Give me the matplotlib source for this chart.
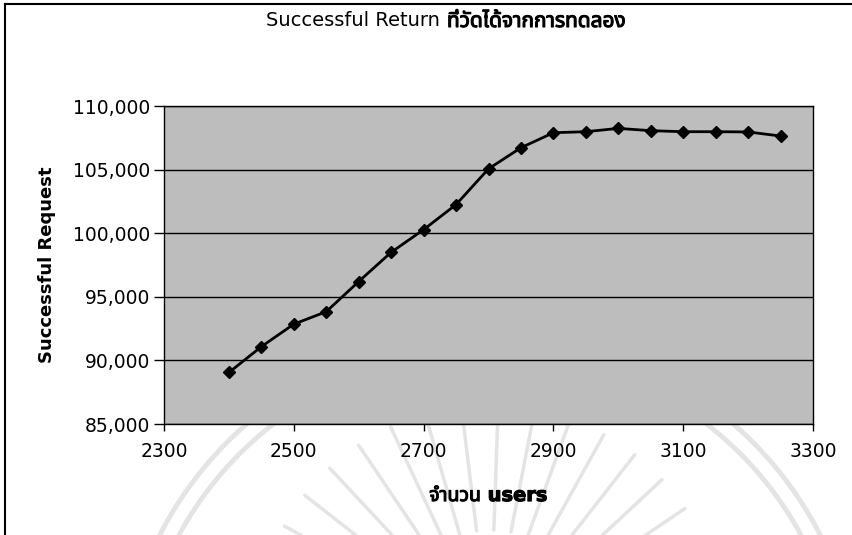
import numpy as np
import matplotlib
matplotlib.use('Agg')
import matplotlib.pyplot as plt
import matplotlib.patheffects as pe
from matplotlib import font_manager
from matplotlib.patches import Arc
from matplotlib.ticker import FuncFormatter
from fontTools.ttLib import TTFont

# data
users = [2400, 2450, 2500, 2550, 2600, 2650, 2700, 2750, 2800,
         2850, 2900, 2950, 3000, 3050, 3100, 3150, 3200, 3250]
successful = [89050, 91080, 92850, 93830, 96200, 98500, 100280, 102250, 105060,
              106720, 107900, 107980, 108240, 108060, 107980, 107980, 107960, 107640]

x_ticks = [2300, 2500, 2700, 2900, 3100, 3300]
y_ticks = [85000, 90000, 95000, 100000, 105000, 110000]

title_en = 'Successful Return'
title_th = 'ที่วัดได้จากการทดลอง'
xlabel = 'จำนวน users'
ylabel = 'Successful Request'


def find_thai_family():
    # look for any installed font that has Thai glyphs
    found = []
    for f in font_manager.fontManager.ttflist:
        try:
            cmap = TTFont(f.fname, fontNumber=0, lazy=True).getBestCmap()
        except Exception:
            continue
        if cmap and 0x0E08 in cmap and 0x0E27 in cmap:
            found.append(f.name)
    for pref in ['Noto Sans Thai', 'Loma', 'Garuda', 'Tlwg Typo', 'Umpush']:
        if pref in found:
            return pref
    return found[0] if found else None


thai = find_thai_family()
fams = ['DejaVu Sans'] + ([thai] if thai else [])
plt.rcParams['font.family'] = fams

W, H = 853, 535
fig = plt.figure(figsize=(W / 100, H / 100), dpi=100)
fig.patch.set_facecolor('white')

# background layer: border lines of the scanned page and the faint watermark
bg = fig.add_axes([0, 0, 1, 1], zorder=0)
bg.set_xlim(0, W)
bg.set_ylim(H, 0)
bg.axis('off')
wm = '#e4e4e4'
for r in [371, 354]:
    bg.add_patch(Arc((490, 704), 2 * r, 2 * r, theta1=180, theta2=360,
                     color=wm, lw=3.5))
for ang in np.arange(25, 160, 9):
    a = np.deg2rad(ang)
    bg.plot([490 + 110 * np.cos(a), 490 + 235 * np.cos(a)],
            [640 - 110 * np.sin(a), 640 - 235 * np.sin(a)],
            color=wm, lw=2.5, solid_capstyle='round')
bg.plot([5, 5], [4, H], color='black', lw=1.5)
bg.plot([5, W], [4, 4], color='black', lw=1.5)

# main plot
ax = fig.add_axes([164 / W, 1 - 424 / H, 649 / W, 318 / H], zorder=2)
ax.set_facecolor('#bdbdbd')
ax.plot(users, successful, color='black', lw=2, marker='D', markersize=6.5,
        zorder=3)

ax.set_xlim(2300, 3300)
ax.set_ylim(85000, 110000)
ax.set_xticks(x_ticks)
ax.set_yticks(y_ticks)
ax.yaxis.set_major_formatter(FuncFormatter(lambda v, p: f'{int(v):,}'))
ax.grid(axis='y', color='black', lw=1)
ax.set_axisbelow(True)
for s in ax.spines.values():
    s.set_color('black')
    s.set_linewidth(1)
ax.tick_params(axis='y', direction='out', length=7, width=1, labelsize=13.5, pad=3)
ax.tick_params(axis='x', direction='out', length=5, width=1, labelsize=13.5, pad=8)

bold = [pe.withStroke(linewidth=0.8, foreground='black')]
xl = ax.set_xlabel(xlabel, fontsize=14, fontweight='bold', labelpad=18)
xl.set_path_effects(bold)
ax.set_ylabel(ylabel, fontsize=13, fontweight='bold', labelpad=12)

# title: latin part regular, thai part heavier as in the scan
ty = 1 - 21 / H
fig.text(440 / W, ty, title_en, fontsize=14, ha='right', va='center')
t2 = fig.text(447 / W, ty, title_th, fontsize=15, ha='left', va='center')
t2.set_path_effects(bold)

fig.savefig('out.png', dpi=100, facecolor='white')
